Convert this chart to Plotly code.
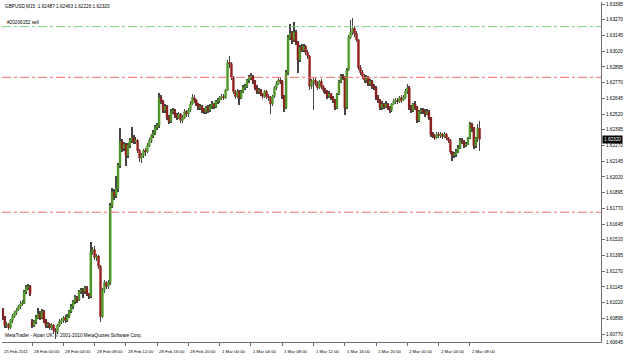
import plotly.graph_objects as go

# ---------------- data (prices in pips, 1 pip = 0.0001) ----------------
open_pips = [
    16099, 16096, 16090, 16084, 16085, 16082, 16088, 16091, 16094, 16096, 16099, 16101, 16102, 16111, 16114, 16115,
    16087, 16084, 16087, 16090, 16093, 16090, 16095, 16088, 16084, 16085, 16082, 16084, 16080, 16079, 16084, 16087,
    16088, 16090, 16088, 16091, 16095, 16099, 16103, 16106, 16104, 16111, 16112, 16111, 16114, 16109, 16107, 16142,
    16144, 16138, 16139, 16131, 16091, 16112, 16118, 16115, 16118, 16179, 16190, 16187, 16193, 16211, 16230, 16225,
    16228, 16219, 16227, 16231, 16233, 16230, 16231, 16223, 16217, 16219, 16223, 16222, 16227, 16231, 16235, 16237,
    16241, 16243, 16265, 16262, 16255, 16258, 16249, 16246, 16254, 16255, 16251, 16249, 16252, 16247, 16249, 16254,
    16252, 16255, 16260, 16265, 16263, 16260, 16257, 16258, 16255, 16254, 16257, 16255, 16258, 16260, 16258, 16262,
    16263, 16265, 16266, 16265, 16271, 16293, 16292, 16281, 16270, 16266, 16270, 16265, 16270, 16273, 16274, 16279,
    16281, 16282, 16278, 16273, 16270, 16271, 16268, 16266, 16270, 16266, 16265, 16260, 16266, 16273, 16276, 16279,
    16278, 16266, 16257, 16285, 16313, 16316, 16311, 16317, 16309, 16295, 16305, 16303, 16306, 16301, 16298, 16274,
    16278, 16279, 16276, 16273, 16278, 16274, 16271, 16270, 16266, 16268, 16265, 16263, 16257, 16268, 16278, 16282,
    16281, 16257, 16287, 16313, 16317, 16320, 16316, 16311, 16289, 16285, 16282, 16279, 16281, 16276, 16278, 16274,
    16273, 16265, 16263, 16257, 16260, 16258, 16260, 16257, 16255, 16260, 16262, 16263, 16262, 16265, 16263, 16265,
    16270, 16273, 16257, 16255, 16260, 16257, 16247, 16254, 16255, 16254, 16252, 16254, 16249, 16236, 16235, 16233,
    16236, 16235, 16236, 16234, 16236, 16233, 16231, 16222, 16219, 16220, 16222, 16225, 16231, 16230, 16227, 16228,
    16233, 16244, 16241, 16227, 16233, 16240.7,
]
close_pips = [
    16096, 16090, 16084, 16085, 16082, 16088, 16091, 16094, 16096, 16099, 16101, 16102, 16111, 16114, 16115, 16109,
    16084, 16087, 16090, 16093, 16090, 16095, 16088, 16084, 16085, 16082, 16084, 16080, 16079, 16084, 16087, 16088,
    16090, 16088, 16091, 16095, 16099, 16103, 16106, 16104, 16111, 16112, 16111, 16114, 16109, 16107, 16142, 16144,
    16138, 16139, 16131, 16091, 16112, 16118, 16115, 16118, 16179, 16190, 16187, 16193, 16211, 16230, 16225, 16228,
    16219, 16227, 16231, 16233, 16230, 16231, 16223, 16217, 16219, 16223, 16222, 16227, 16231, 16235, 16237, 16241,
    16243, 16265, 16262, 16255, 16258, 16249, 16246, 16254, 16255, 16251, 16249, 16252, 16247, 16249, 16254, 16252,
    16255, 16260, 16265, 16263, 16260, 16257, 16258, 16255, 16254, 16257, 16255, 16258, 16260, 16258, 16262, 16263,
    16265, 16266, 16265, 16271, 16293, 16292, 16281, 16270, 16266, 16270, 16265, 16270, 16273, 16274, 16279, 16281,
    16282, 16278, 16273, 16270, 16271, 16268, 16266, 16270, 16266, 16265, 16260, 16266, 16273, 16276, 16279, 16278,
    16266, 16257, 16285, 16313, 16316, 16311, 16317, 16309, 16295, 16305, 16303, 16306, 16301, 16298, 16274, 16278,
    16279, 16276, 16273, 16278, 16274, 16271, 16270, 16266, 16268, 16265, 16263, 16257, 16268, 16278, 16282, 16281,
    16257, 16287, 16313, 16317, 16320, 16316, 16311, 16289, 16285, 16282, 16279, 16281, 16276, 16278, 16274, 16273,
    16265, 16263, 16257, 16260, 16258, 16260, 16257, 16255, 16260, 16262, 16263, 16262, 16265, 16263, 16265, 16270,
    16273, 16257, 16255, 16260, 16257, 16247, 16254, 16255, 16254, 16252, 16254, 16249, 16236, 16235, 16233, 16236,
    16235, 16236, 16234, 16236, 16233, 16231, 16222, 16219, 16220, 16222, 16225, 16231, 16230, 16227, 16228, 16233,
    16244, 16241, 16227, 16233, 16240.7, 16232.0,
]
high_pips = [
    16101, 16098, 16091, 16087, 16086, 16089, 16093, 16095, 16098, 16100, 16103, 16104, 16112, 16116, 16117, 16116,
    16089, 16088, 16092, 16098, 16095, 16097, 16096, 16089, 16087, 16086, 16086, 16085, 16082, 16085, 16089, 16090,
    16091, 16092, 16093, 16096, 16101, 16104, 16108, 16107, 16112, 16114, 16114, 16115, 16115, 16110, 16150, 16146,
    16147, 16141, 16140, 16132, 16114, 16120, 16119, 16120, 16181, 16193, 16192, 16203, 16213, 16241, 16232, 16230,
    16229, 16229, 16233, 16242, 16235, 16234, 16232, 16224, 16221, 16224, 16225, 16229, 16233, 16236, 16239, 16243,
    16245, 16269, 16267, 16263, 16260, 16259, 16251, 16256, 16257, 16256, 16253, 16254, 16253, 16251, 16256, 16255,
    16257, 16262, 16268, 16267, 16264, 16261, 16260, 16259, 16257, 16258, 16259, 16260, 16262, 16261, 16263, 16265,
    16266, 16268, 16268, 16272, 16295, 16298, 16293, 16282, 16271, 16272, 16271, 16271, 16275, 16276, 16280, 16283,
    16285, 16283, 16279, 16275, 16273, 16272, 16269, 16271, 16271, 16268, 16266, 16267, 16274, 16278, 16281, 16281,
    16279, 16267, 16287, 16315, 16324, 16318, 16325, 16319, 16310, 16307, 16308, 16308, 16307, 16303, 16299, 16280,
    16281, 16281, 16278, 16279, 16280, 16275, 16273, 16271, 16270, 16269, 16266, 16264, 16269, 16279, 16284, 16284,
    16282, 16289, 16315, 16327, 16328, 16322, 16318, 16312, 16291, 16287, 16284, 16283, 16282, 16280, 16279, 16276,
    16274, 16267, 16264, 16262, 16261, 16262, 16261, 16258, 16261, 16264, 16265, 16265, 16266, 16267, 16267, 16272,
    16276, 16274, 16259, 16261, 16262, 16258, 16255, 16257, 16257, 16256, 16256, 16255, 16250, 16238, 16236, 16238,
    16238, 16238, 16237, 16238, 16237, 16234, 16232, 16223, 16222, 16224, 16227, 16233, 16233, 16231, 16230, 16234,
    16246, 16245, 16242, 16234, 16244, 16246.3,
]
low_pips = [
    16094, 16088, 16082, 16082, 16080, 16081, 16086, 16090, 16092, 16095, 16097, 16099, 16101, 16109, 16112, 16107,
    16082, 16083, 16085, 16089, 16088, 16089, 16086, 16082, 16082, 16080, 16080, 16077, 16073, 16077, 16083, 16085,
    16086, 16086, 16087, 16090, 16094, 16097, 16101, 16102, 16103, 16109, 16106, 16109, 16107, 16105, 16106, 16140,
    16136, 16135, 16129, 16087, 16090, 16110, 16113, 16113, 16116, 16177, 16184, 16185, 16190, 16209, 16222, 16223,
    16211, 16217, 16225, 16229, 16228, 16228, 16221, 16214, 16213, 16217, 16219, 16221, 16226, 16229, 16233, 16235,
    16239, 16241, 16260, 16253, 16253, 16247, 16244, 16245, 16252, 16249, 16247, 16248, 16245, 16245, 16248, 16250,
    16250, 16254, 16259, 16261, 16258, 16255, 16255, 16253, 16252, 16252, 16253, 16254, 16256, 16256, 16257, 16260,
    16261, 16263, 16263, 16264, 16270, 16289, 16279, 16268, 16264, 16265, 16259, 16264, 16269, 16271, 16273, 16277,
    16279, 16276, 16271, 16268, 16268, 16266, 16264, 16265, 16264, 16262, 16252, 16258, 16265, 16271, 16275, 16276,
    16264, 16254, 16256, 16283, 16311, 16308, 16309, 16307, 16285, 16293, 16301, 16301, 16299, 16296, 16271, 16272,
    16255, 16274, 16271, 16272, 16272, 16269, 16268, 16264, 16265, 16263, 16261, 16255, 16256, 16267, 16277, 16279,
    16251, 16256, 16286, 16312, 16315, 16313, 16309, 16287, 16283, 16280, 16277, 16277, 16274, 16274, 16272, 16271,
    16263, 16261, 16255, 16255, 16256, 16257, 16255, 16253, 16254, 16259, 16260, 16260, 16261, 16261, 16262, 16264,
    16268, 16255, 16253, 16254, 16255, 16245, 16246, 16252, 16252, 16250, 16251, 16247, 16234, 16233, 16231, 16232,
    16233, 16233, 16232, 16233, 16231, 16229, 16220, 16215, 16217, 16218, 16221, 16224, 16228, 16225, 16226, 16227,
    16232, 16238, 16224, 16225, 16230, 16222.6,
]

time_labels = ["25 Feb 2011", "28 Feb 00:00", "28 Feb 04:00", "28 Feb 08:00", "28 Feb 12:00",
               "28 Feb 16:00", "28 Feb 20:00", "1 Mar 00:00", "1 Mar 04:00", "1 Mar 08:00",
               "1 Mar 12:00", "1 Mar 16:00", "1 Mar 20:00", "2 Mar 00:00", "2 Mar 04:00", "2 Mar 08:00"]
time_label_bars = [0, 16, 32, 48, 64, 80, 96, 112, 128, 144, 160, 176, 192, 208, 224, 240]

price_ticks = [1.63395, 1.63270, 1.63145, 1.63020, 1.62895, 1.62770, 1.62645, 1.62520, 1.62395,
               1.62270, 1.62145, 1.62020, 1.61895, 1.61770, 1.61645, 1.61520, 1.61395, 1.61270,
               1.61145, 1.61020, 1.60895, 1.60770]
bottom_price_label = "1.60645"

symbol_title = "GBPUSD,M15  1.62487 1.62463 1.62226 1.62320"
order_text = "#20206152 sell"
copyright_text = "MetaTrader - Alpari UK, \u00a9 2001-2010 MetaQuotes Software Corp."
order_level = 1.63215
red_levels = [1.62812, 1.61739]
last_price = 1.62320

# ---------------- build ----------------
n = len(close_pips)
assert len(open_pips) == n and len(high_pips) == n and len(low_pips) == n
idx = list(range(n))
opens = [p / 10000 for p in open_pips]
closes = [p / 10000 for p in close_pips]
highs = [p / 10000 for p in high_pips]
lows = [p / 10000 for p in low_pips]
body_hi = [max(o, c) for o, c in zip(opens, closes)]
body_lo = [min(o, c) for o, c in zip(opens, closes)]

FONT = "Liberation Sans"
AX = "#6e6e6e"
GREEN = "#519a2a"
RED = "#951f1f"

fig = go.Figure()
# wicks (bar layer sits under the candle bodies)
fig.add_trace(go.Bar(x=idx, y=[h - l for h, l in zip(highs, lows)], base=lows, width=0.3,
                     marker=dict(color="#444444", line=dict(width=0)), hoverinfo="skip"))
# bodies
fig.add_trace(go.Candlestick(x=idx, open=opens, high=body_hi, low=body_lo, close=closes,
                             increasing=dict(fillcolor=GREEN, line=dict(color=GREEN, width=0.5)),
                             decreasing=dict(fillcolor=RED, line=dict(color=RED, width=0.5)),
                             whiskerwidth=0))

shapes = [dict(type="line", xref="paper", x0=0, x1=1, yref="y", y0=order_level, y1=order_level,
               line=dict(color="#7fcf7f", width=1, dash="dashdot"))]
for lv in red_levels:
    shapes.append(dict(type="line", xref="paper", x0=0, x1=1, yref="y", y0=lv, y1=lv,
                       line=dict(color="#f07070", width=1, dash="dashdot")))

ann = []
for k, (b, t) in enumerate(zip(time_label_bars, time_labels)):
    if k == 0:
        ann.append(dict(x=0, xref="paper", y=0, yref="paper", yanchor="top", xanchor="left", yshift=-5,
                        text=t, showarrow=False, font=dict(family=FONT, size=4.3, color="black")))
    else:
        ann.append(dict(x=b, xref="x", y=0, yref="paper", yanchor="top", xanchor="left", yshift=-5,
                        text=t, showarrow=False, font=dict(family=FONT, size=4.3, color="black")))
ann.append(dict(x=0, xref="paper", y=1, yref="paper", xanchor="left", yanchor="top", xshift=1, yshift=0,
                text=symbol_title, showarrow=False, font=dict(family=FONT, size=4.7, color="black")))
ann.append(dict(x=0, xref="paper", y=order_level, yref="y", xanchor="left", yanchor="bottom", xshift=3, yshift=0,
                text=order_text, showarrow=False, font=dict(family=FONT, size=4.7, color="black")))
ann.append(dict(x=0, xref="paper", y=0, yref="paper", xanchor="left", yanchor="bottom", xshift=1, yshift=2,
                text=copyright_text, showarrow=False, font=dict(family=FONT, size=4.7, color="black")))
ann.append(dict(x=1, xref="paper", y=last_price, yref="y", xanchor="left", yanchor="middle", xshift=1,
                text=f"{last_price:.5f}", showarrow=False, bgcolor="black", borderpad=1,
                font=dict(family=FONT, size=4.7, color="white")))
ann.append(dict(x=1, xref="paper", y=0, yref="paper", xanchor="left", yanchor="middle", xshift=3,
                text=bottom_price_label, showarrow=False, font=dict(family=FONT, size=4.7, color="black")))

fig.update_layout(
    width=625, height=360,
    margin=dict(l=2, r=21, t=2, b=18),
    paper_bgcolor="white", plot_bgcolor="white",
    showlegend=False, boxgap=0.05, boxgroupgap=0, bargap=0,
    shapes=shapes, annotations=ann,
    xaxis=dict(range=[0.6, 307.1], rangeslider=dict(visible=False), showgrid=False, zeroline=False,
               showline=True, linecolor=AX, linewidth=1, ticks="outside", ticklen=3, tickcolor=AX,
               tickvals=time_label_bars, showticklabels=False, fixedrange=True),
    yaxis=dict(side="right", range=[1.60707, 1.63411], tickvals=price_ticks,
               ticktext=[f"{v:.5f}" for v in price_ticks], ticks="outside", ticklen=3, tickcolor=AX,
               showline=True, linecolor=AX, linewidth=1, showgrid=False, zeroline=False,
               tickfont=dict(family=FONT, size=4.7, color="black"), fixedrange=True),
)

fig.write_html("out.html")
